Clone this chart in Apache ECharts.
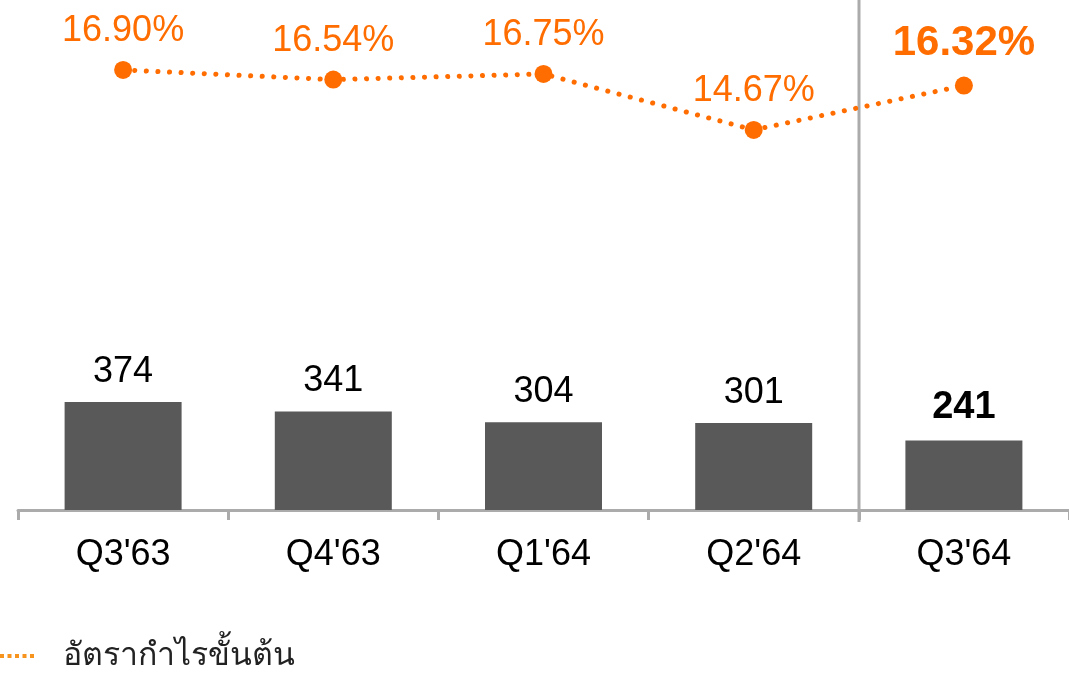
<!DOCTYPE html>
<html><head><meta charset="utf-8">
<script src="https://cdn.jsdelivr.net/npm/echarts@6/dist/echarts.min.js"></script>
<style>html,body{margin:0;padding:0;background:#fff}#c{width:1069px;height:676px}</style>
</head><body><div id="c"></div>
<script>
const categories = ["Q3'63", "Q4'63", "Q1'64", "Q2'64", "Q3'64"];
const salesValues = [374, 341, 304, 301, 241];
const marginValues = [16.90, 16.54, 16.75, 14.67, 16.32];
const marginName = 'อัตรากำไรขั้นต้น';

const chart = echarts.init(document.getElementById('c'));
const lastIdx = categories.length - 1;
const grey = '#ababab';
chart.setOption({
  animation: false,
  backgroundColor: '#fff',
  textStyle: {fontFamily: 'Liberation Sans, Arial, sans-serif'},
  grid: {left: 18, top: 0, width: 1055, height: 510},
  legend: {
    left: 0, top: 640, padding: 0,
    itemWidth: 34, itemHeight: 4,
    data: [{name: marginName, icon: 'path://M0,0h4v4h-4z M7.5,0h4v4h-4z M15,0h4v4h-4z M22.5,0h4v4h-4z M30,0h4v4h-4z', itemStyle: {color: '#F7941D'}}],
    textStyle: {fontSize: 32, color: '#222', padding: [0, 0, 0, 24], fontFamily: 'Noto Sans, DejaVu Sans, sans-serif'}
  },
  xAxis: {
    type: 'category', data: categories,
    axisLine: {lineStyle: {color: grey, width: 3}},
    axisTick: {show: true, length: 10, lineStyle: {color: grey, width: 3}},
    axisLabel: {fontSize: 36, color: '#000', margin: 27}
  },
  yAxis: [
    {type: 'value', min: 0, max: 1766, show: false},
    {type: 'value', min: 0.54, max: 19.5, show: false}
  ],
  series: [
    {
      type: 'bar', name: 'sales', data: salesValues.map((v, i) => ({
        value: v,
        label: i === lastIdx ? {fontWeight: 'bold', fontSize: 38, distance: 14} : {}
      })),
      barWidth: 117, yAxisIndex: 0,
      itemStyle: {color: '#595959'},
      label: {show: true, position: 'top', distance: 12, fontSize: 36, color: '#000'}
    },
    {
      type: 'line', name: marginName, data: marginValues.map((v, i) => ({
        value: v,
        label: i === lastIdx ? {fontWeight: 'bold', fontSize: 42, distance: 12} : {}
      })),
      yAxisIndex: 1,
      symbol: 'circle', symbolSize: 18,
      itemStyle: {color: '#FF6D00'},
      lineStyle: {color: '#FF6D00', width: 5, type: [0.1, 11.5], cap: 'round'},
      label: {show: true, position: 'top', distance: 12, fontSize: 36, color: '#FF6D00', formatter: (p) => p.value.toFixed(2) + '%'}
    }
  ]
});
// separator between the last two categories
const xa = chart.convertToPixel({xAxisIndex: 0}, categories[lastIdx - 1]);
const xb = chart.convertToPixel({xAxisIndex: 0}, categories[lastIdx]);
const sepX = Math.round((xa + xb) / 2);
chart.setOption({
  graphic: [{type: 'line', shape: {x1: sepX, y1: 0, x2: sepX, y2: 522}, style: {stroke: grey, lineWidth: 3}, z: 0}]
});
</script></body></html>
